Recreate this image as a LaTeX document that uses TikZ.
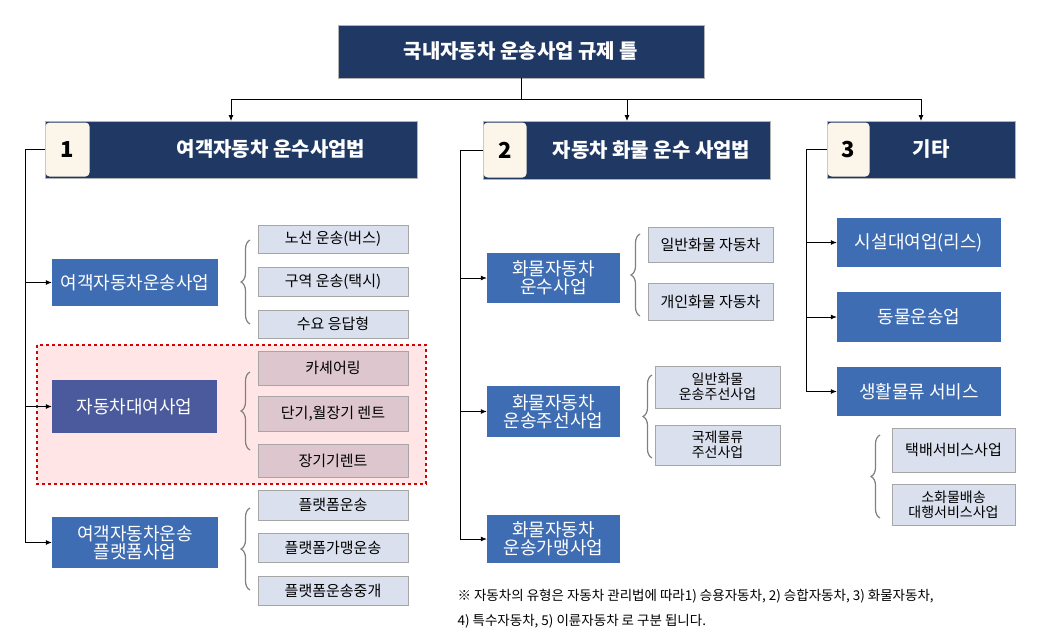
\documentclass[tikz,border=0pt]{standalone}
\usepackage{fontspec}
\setmainfont{Noto Sans CJK KR}
\usetikzlibrary{decorations.pathreplacing,arrows.meta}
\definecolor{navy}{HTML}{1F3864}
\definecolor{mblue}{HTML}{3F6DB3}
\definecolor{pblue}{HTML}{4A5A9C}
\definecolor{lgray}{HTML}{DAE0EE}
\definecolor{lpink}{HTML}{DDC6CE}
\definecolor{cream}{HTML}{FBF6E9}
\tikzset{x=1pt,y=-1pt,
 hdr/.style={fill=navy,draw=gray!60,text=white,font=\bfseries\fontsize{20}{24}\selectfont},
 num/.style={fill=cream,rounded corners=4pt,font=\bfseries\fontsize{22}{24}\selectfont},
 bbox/.style={fill=mblue,text=white,align=center,font=\fontsize{18}{21}\selectfont},
 sbox/.style={fill=lgray,draw=gray!70,align=center,font=\fontsize{15}{17}\selectfont},
 pbox/.style={fill=lpink,draw=gray!70,align=center,font=\fontsize{15}{17}\selectfont},
 arr/.style={-{Latex[length=6pt,width=5pt]},line width=0.8pt},
 ln/.style={line width=0.8pt},
 br/.style={decorate,decoration={brace,amplitude=9pt},draw=gray,line width=1.2pt}}
\newcommand{\bx}[6]{\path[#1] (#2,#3) rectangle (#4,#5); \node[#1,draw=none,fill=none,anchor=center] at ({(#2+#4)/2},{(#3+#5)/2}) {#6};}
\begin{document}
\begin{tikzpicture}
\useasboundingbox (0,0) rectangle (1038,642);
% top
\node[hdr,minimum width=366pt,minimum height=53pt] (top) at (521,51.5) {국내자동차 운송사업 규제 틀};
\coordinate (j) at (521,99);
\draw[ln] (top.south) -- (j);
\draw[arr] (231,99) -- (231,121);
\draw[arr] (627,99) -- (627,121);
\draw[arr] (921,99) -- (921,121);
\draw[ln] (231,99) -- (921,99);
% headers
\node[hdr,minimum width=372pt,minimum height=57pt] (h1) at (231,149.5) {\hspace*{4em}여객자동차 운수사업법};
\node[num,minimum width=44pt,minimum height=54pt] (n1) at (67.5,149.5) {1};
\node[hdr,minimum width=287pt,minimum height=58pt] (h2) at (626.5,150) {\hspace*{2.5em}자동차 화물 운수 사업법};
\node[num,minimum width=43pt,minimum height=55pt] (n2) at (505,150) {2};
\node[hdr,minimum width=188pt,minimum height=57pt] (h3) at (921,149.5) {\hspace*{1em}기타};
\node[num,minimum width=42pt,minimum height=54pt] (n3) at (848.5,149.5) {3};
% red area
\draw[red!85!black,dashed,line width=1.3pt,fill=red!10] (37,345) rectangle (426,484);
% column 1
\node[bbox,minimum width=166pt,minimum height=47pt] (a) at (135,282.5) {여객자동차운송사업};
\node[bbox,fill=pblue,minimum width=165pt,minimum height=53pt] (b) at (134.5,406.5) {자동차대여사업};
\node[bbox,minimum width=166pt,minimum height=51pt] (c) at (135,542.5) {여객자동차운송\\[-3pt]플랫폼사업};
\draw[ln] (n1.west) -| (25,543);
\draw[arr] (25,282.5) -- (a.west);
\draw[arr] (25,406.5) -- (b.west);
\draw[arr] (25,542.5) -- (c.west);
\node[sbox,minimum width=150pt,minimum height=28pt] (a1) at (333,239) {노선 운송(버스)};
\node[sbox,minimum width=150pt,minimum height=29pt] (a2) at (333,281.5) {구역 운송(택시)};
\node[sbox,minimum width=150pt,minimum height=28pt] (a3) at (333,324) {수요 응답형};
\draw[br] (250,324) -- (250,240);
\node[pbox,minimum width=150pt,minimum height=34pt] (b1) at (333,368) {카셰어링};
\node[pbox,minimum width=150pt,minimum height=35pt] (b2) at (333,413.5) {단기,월장기 렌트};
\node[pbox,minimum width=150pt,minimum height=33pt] (b3) at (333,460.5) {장기기렌트};
\draw[br] (250,450) -- (250,372);
\node[sbox,minimum width=150pt,minimum height=30pt] (c1) at (333,505) {플랫폼운송};
\node[sbox,minimum width=150pt,minimum height=29pt] (c2) at (333,547.5) {플랫폼가맹운송};
\node[sbox,minimum width=150pt,minimum height=29pt] (c3) at (333,590.5) {플랫폼운송중개};
\draw[br] (250,590) -- (250,508);
% column 2
\node[bbox,minimum width=133pt,minimum height=50pt] (d) at (553.5,278) {화물자동차\\[-3pt]운수사업};
\node[bbox,minimum width=133pt,minimum height=51pt] (e) at (553.5,411.5) {화물자동차\\[-3pt]운송주선사업};
\node[bbox,minimum width=133pt,minimum height=48pt] (f) at (553.5,539) {화물자동차\\[-3pt]운송가맹사업};
\draw[ln] (n2.west) -| (460,539);
\draw[arr] (460,278) -- (d.west);
\draw[arr] (460,411.5) -- (e.west);
\draw[arr] (460,539) -- (f.west);
\node[sbox,minimum width=125pt,minimum height=35pt] (d1) at (710.5,244.5) {일반화물 자동차};
\node[sbox,minimum width=125pt,minimum height=37pt] (d2) at (710.5,301.5) {개인화물 자동차};
\draw[br] (640,316) -- (640,234);
\node[sbox,minimum width=125pt,minimum height=42pt,font=\fontsize{14}{15}\selectfont] (e1) at (717.5,387) {일반화물\\운송주선사업};
\node[sbox,minimum width=125pt,minimum height=40pt,font=\fontsize{14}{15}\selectfont] (e2) at (717.5,445) {국제물류\\주선사업};
\draw[br] (652,458) -- (652,375);
% column 3
\node[bbox,minimum width=164pt,minimum height=49pt] (g1) at (919,242.5) {시설대여업(리스)};
\node[bbox,minimum width=164pt,minimum height=50pt] (g2) at (919,317) {동물운송업};
\node[bbox,minimum width=164pt,minimum height=49pt] (g3) at (919,391.5) {생활물류 서비스};
\draw[ln] (n3.west) -| (806,391.5);
\draw[arr] (806,242.5) -- (g1.west);
\draw[arr] (806,317) -- (g2.west);
\draw[arr] (806,391.5) -- (g3.west);
\node[sbox,minimum width=123pt,minimum height=44pt] (k1) at (953.5,450) {택배서비스사업};
\node[sbox,minimum width=123pt,minimum height=41pt,font=\fontsize{14}{15}\selectfont] (k2) at (953.5,504.5) {소화물배송\\대행서비스사업};
\draw[br] (880,518) -- (880,435);
% note
\node[anchor=west,font=\fontsize{13.5}{16}\selectfont] (note1) at (454,596) {※ 자동차의 유형은 자동차 관리법에 따라1) 승용자동차, 2) 승합자동차, 3) 화물자동차,};
\node[anchor=west,font=\fontsize{13.5}{16}\selectfont] (note2) at (454,621) {4) 특수자동차, 5) 이륜자동차 로 구분 됩니다.};
\end{tikzpicture}
\end{document}
